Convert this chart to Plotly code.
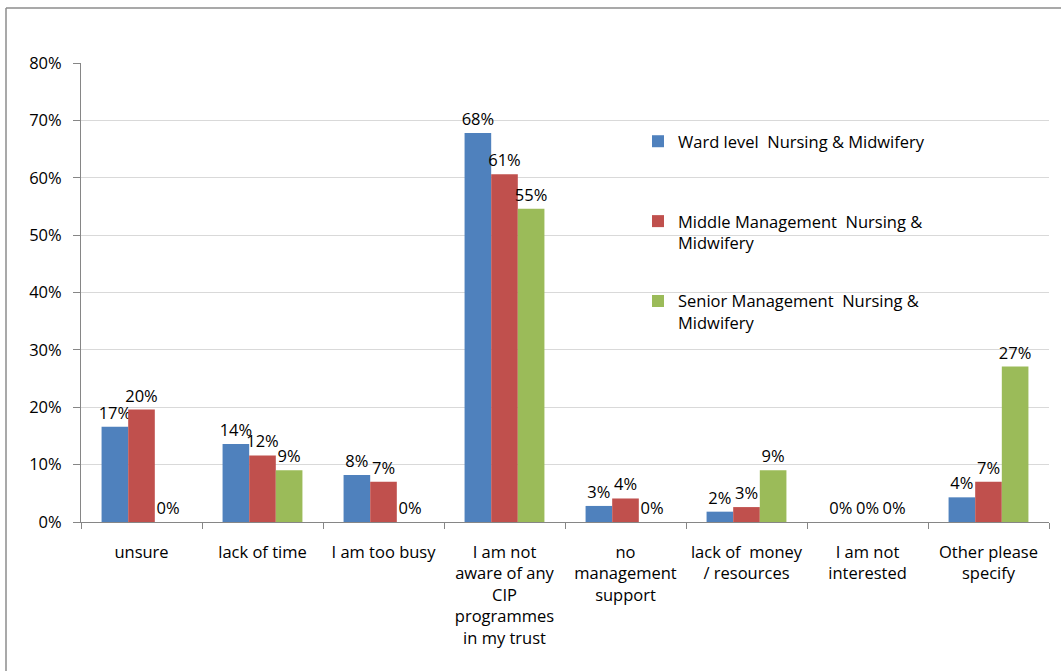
import plotly.graph_objects as go

# Survey reasons, grouped by staff level (percent of respondents)
categories = [
    "unsure",
    "lack of time",
    "I am too busy",
    "I am not<br>aware of any<br>CIP<br>programmes<br>in my trust",
    "no<br>management<br>support",
    "lack of  money<br>/ resources",
    "I am not<br>interested",
    "Other please<br>specify",
]

ward_level = [16.6, 13.6, 8.2, 67.8, 2.8, 1.8, 0.0, 4.3]
middle_mgmt = [19.6, 11.6, 7.0, 60.6, 4.1, 2.6, 0.0, 7.0]
senior_mgmt = [0.0, 9.0, 0.0, 54.6, 0.0, 9.0, 0.0, 27.1]

series_names = [
    "Ward level  Nursing & Midwifery<br> ",
    "Middle Management  Nursing &<br>Midwifery",
    "Senior Management  Nursing &<br>Midwifery",
]
series_values = [ward_level, middle_mgmt, senior_mgmt]
series_colors = ["#4F81BD", "#C0504D", "#9BBB59"]

y_ticks = [0, 10, 20, 30, 40, 50, 60, 70, 80]
y_tick_labels = [f"{v}%" for v in y_ticks]

FONT = "Open Sans"
FS = 16.5

fig = go.Figure()
for i, (name, vals, col) in enumerate(zip(series_names, series_values, series_colors)):
    fig.add_trace(go.Bar(
        x=categories,
        y=vals,
        name=name,
        legendgroup=f"g{i}",
        marker=dict(color=col, line=dict(width=0)),
        text=vals,
        texttemplate="%{y:.0f}%",
        textposition="outside",
        textfont=dict(family=FONT, size=FS, color="#000000"),
        cliponaxis=False,
        constraintext="none",
    ))

# plot area in pixels: x 81..1049, y 63..522
L, R, T, B = 81, 12, 63, 149
W, H = 1061, 671
pw, ph = W - L - R, H - T - B

# outer frame of the chart area (left and top edges)
fx = (6 - L) / pw
fy = (H - B - 8) / ph
fig.add_shape(type="line", xref="paper", yref="paper",
              x0=fx, x1=fx, y0=fy, y1=-(B + 5) / ph,
              line=dict(color="#8c8c8c", width=1.5))
fig.add_shape(type="line", xref="paper", yref="paper",
              x0=fx, x1=(W - L + 5) / pw, y0=fy, y1=fy,
              line=dict(color="#8c8c8c", width=1.5))

fig.update_layout(
    width=W, height=H,
    margin=dict(l=L, r=R, t=T, b=B, pad=0),
    paper_bgcolor="white",
    plot_bgcolor="white",
    barmode="group",
    bargap=0.34,
    bargroupgap=0,
    font=dict(family=FONT, size=FS, color="#000000"),
    legend=dict(
        x=(638 - L) / pw, y=(H - B - 124) / ph,
        xanchor="left", yanchor="top",
        bgcolor="rgba(0,0,0,0)",
        font=dict(family=FONT, size=FS, color="#000000"),
        tracegroupgap=34,
        valign="top",
        itemwidth=30,
    ),
    xaxis=dict(
        type="category",
        showline=True, linecolor="#868686", linewidth=1,
        ticks="outside", ticklen=6, tickcolor="#868686",
        tickson="boundaries",
        showgrid=False,
        tickfont=dict(family=FONT, size=FS, color="#000000"),
        ticklabelstandoff=15,
    ),
    yaxis=dict(
        range=[0, 80],
        tickvals=y_ticks, ticktext=y_tick_labels,
        showline=True, linecolor="#868686", linewidth=1,
        ticks="outside", ticklen=7, tickcolor="#868686",
        showgrid=True, gridcolor="#d9d9d9", gridwidth=1,
        zeroline=False,
        tickfont=dict(family=FONT, size=FS, color="#000000"),
        ticklabelstandoff=8,
    ),
)

fig.write_html("out.html")
